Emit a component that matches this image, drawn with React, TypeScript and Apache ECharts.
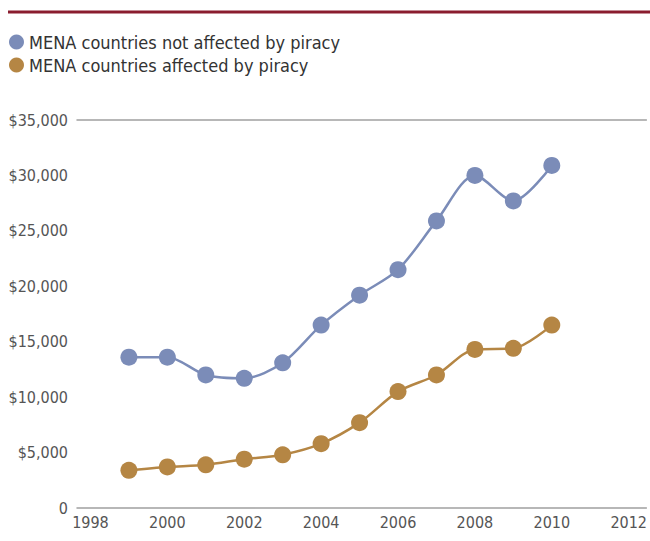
import React, { useEffect, useRef } from "react";
import * as echarts from "echarts";

const years = [1999, 2000, 2001, 2002, 2003, 2004, 2005, 2006, 2007, 2008, 2009, 2010];
const notAffected = [13600, 13600, 12000, 11700, 13100, 16500, 19200, 21500, 25900, 30000, 27700, 30900];
const affected = [3400, 3700, 3900, 4400, 4800, 5800, 7700, 10500, 12000, 14300, 14400, 16500];
const xTicks = [1998, 2000, 2002, 2004, 2006, 2008, 2010, 2012];
const seriesNames = ["MENA countries not affected by piracy", "MENA countries affected by piracy"];

const FONT = "'Liberation Sans Narrow', 'DejaVu Sans Condensed', 'Roboto', sans-serif";

export default function App() {
  const ref = useRef<HTMLDivElement>(null);
  useEffect(() => {
    document.body.style.margin = "0";
    document.body.style.overflow = "hidden";
    if (!ref.current) return;
    const chart = echarts.init(ref.current, null, { renderer: "svg" });
    chart.setOption({
      animation: false,
      textStyle: { fontFamily: FONT },
      legend: {
        orient: "vertical",
        left: 4,
        top: 28,
        icon: "circle",
        itemWidth: 15,
        itemHeight: 15,
        itemGap: 5,
        textStyle: { fontFamily: FONT, fontSize: 18, color: "#333" },
        data: seriesNames,
      },
      graphic: [
        {
          type: "line",
          shape: { x1: 8, y1: 12, x2: 650, y2: 12 },
          style: { stroke: "#8a1c2e", lineWidth: 3 },
        },
      ],
      grid: { left: 77, right: 2, top: 120, bottom: 33 },
      xAxis: [
        {
          type: "value",
          min: 1997.65,
          max: 2012.46,
          axisLine: { show: true, lineStyle: { color: "#a0a0a0", width: 1.5 } },
          axisTick: { show: false },
          splitLine: { show: false },
          axisLabel: {
            customValues: xTicks,
            fontSize: 16,
            color: "#555",
            margin: 6,
            fontFamily: FONT,
            formatter: (v: number) => String(Math.round(v)),
          },
        },
        {
          type: "value",
          position: "top",
          min: 1997.65,
          max: 2012.46,
          axisLine: { show: true, lineStyle: { color: "#a0a0a0", width: 1.5 } },
          axisTick: { show: false },
          axisLabel: { show: false },
          splitLine: { show: false },
        },
      ],
      yAxis: {
        type: "value",
        min: 0,
        max: 35000,
        interval: 5000,
        axisLine: { show: false },
        axisTick: { show: false },
        splitLine: { show: false },
        axisLabel: {
          fontSize: 16,
          color: "#555",
          margin: 9,
          fontFamily: FONT,
          formatter: (v: number) => (v === 0 ? "0" : "$" + v.toLocaleString("en-US")),
        },
      },
      series: [
        {
          name: seriesNames[0],
          type: "line",
          smooth: 0.3,
          symbol: "circle",
          symbolSize: 17,
          itemStyle: { color: "#7b8cb8" },
          lineStyle: { color: "#7b8cb8", width: 2.5 },
          data: years.map((y, i) => [y, notAffected[i]]),
        },
        {
          name: seriesNames[1],
          type: "line",
          smooth: 0.3,
          symbol: "circle",
          symbolSize: 17,
          itemStyle: { color: "#b58644" },
          lineStyle: { color: "#b58644", width: 2.5 },
          data: years.map((y, i) => [y, affected[i]]),
        },
      ],
    });
    return () => chart.dispose();
  }, []);
  return <div ref={ref} style={{ width: 650, height: 541 }} />;
}
